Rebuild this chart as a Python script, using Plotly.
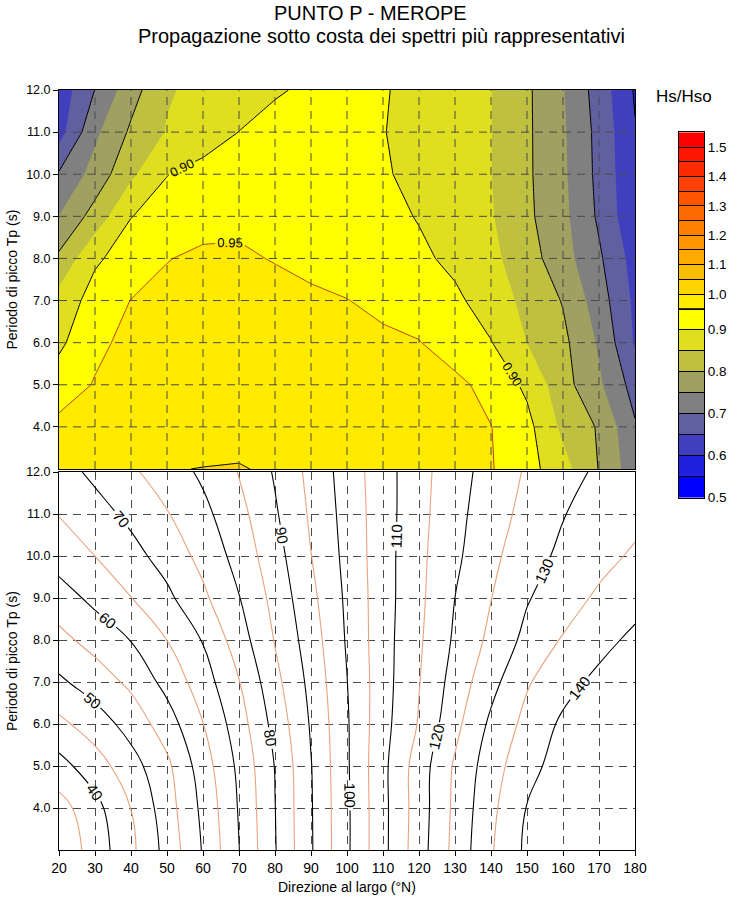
import plotly.graph_objects as go

W, H = 739, 899

# ---------------- data ----------------
direzioni = [20, 30, 40, 50, 60, 70, 80, 90, 100, 110, 120, 130, 140, 150, 160, 170, 180]
periodi = [3, 4, 5, 6, 7, 8, 9, 10, 11, 12]

# Hs/Hso (upper panel), one row per peak period Tp
hs_tp03 = [0.965, 0.978, 0.990, 0.999, 1.0005, 1.0013, 0.997, 0.993, 0.988, 0.982, 0.975, 0.966, 0.953, 0.919, 0.868, 0.798, 0.720]
hs_tp04 = [0.962, 0.972, 0.980, 0.986, 0.990, 0.992, 0.990, 0.987, 0.983, 0.978, 0.972, 0.963, 0.951, 0.915, 0.839, 0.795, 0.705]
hs_tp05 = [0.926, 0.953, 0.970, 0.978, 0.984, 0.988, 0.987, 0.983, 0.978, 0.972, 0.968, 0.962, 0.934, 0.890, 0.819, 0.758, 0.680]
hs_tp06 = [0.890, 0.940, 0.962, 0.972, 0.978, 0.980, 0.978, 0.972, 0.965, 0.958, 0.952, 0.925, 0.902, 0.8498, 0.812, 0.744, 0.645]
hs_tp07 = [0.870, 0.919, 0.951, 0.965, 0.972, 0.975, 0.970, 0.958, 0.951, 0.940, 0.925, 0.910, 0.876, 0.837, 0.797, 0.724, 0.640]
hs_tp08 = [0.810, 0.893, 0.921, 0.948, 0.960, 0.958, 0.947, 0.938, 0.930, 0.922, 0.910, 0.888, 0.862, 0.822, 0.770, 0.708, 0.630]
hs_tp09 = [0.751, 0.820, 0.899, 0.915, 0.930, 0.938, 0.940, 0.938, 0.930, 0.915, 0.897, 0.875, 0.854, 0.810, 0.763, 0.692, 0.610]
hs_tp10 = [0.705, 0.769, 0.840, 0.899, 0.915, 0.925, 0.930, 0.928, 0.920, 0.905, 0.887, 0.869, 0.851, 0.808, 0.759, 0.687, 0.607]
hs_tp11 = [0.630, 0.740, 0.808, 0.8535, 0.877, 0.9005, 0.910, 0.915, 0.912, 0.9015, 0.885, 0.868, 0.851, 0.808, 0.757, 0.685, 0.603]
hs_tp12 = [0.620, 0.701, 0.780, 0.845, 0.864, 0.879, 0.897, 0.905, 0.910, 0.903, 0.888, 0.869, 0.851, 0.808, 0.753, 0.678, 0.595]
hs = [hs_tp03, hs_tp04, hs_tp05, hs_tp06, hs_tp07, hs_tp08, hs_tp09, hs_tp10, hs_tp11, hs_tp12]

# nearshore direction (lower panel, degrees N)
dir_tp03 = [31.2, 37.2, 43.9, 51.7, 60.4, 69.9, 79.7, 89.5, 99.2, 108.65, 117.8, 126.5, 134.5, 141.0, 142.8, 143.8, 144.5]
dir_tp04 = [33.0, 38.4, 45.07, 52.7, 61.2, 70.4, 79.9, 89.6, 99.2, 108.65, 117.5, 126.1, 133.8, 140.2, 142.3, 143.5, 144.4]
dir_tp05 = [38.3, 42.7, 48.0, 53.9, 62.6, 71.1, 80.2, 89.8, 99.4, 108.75, 117.4, 125.65, 132.7, 138.5, 142.0, 143.3, 144.3]
dir_tp06 = [43.8, 47.5, 51.9, 57.6, 64.9, 72.7, 81.7, 90.5, 99.5, 108.3, 115.4, 123.6, 131.0, 136.5, 140.9, 142.8, 144.2]
dir_tp07 = [49.15, 52.4, 56.1, 61.6, 67.6, 74.8, 83.5, 91.4, 99.9, 108.0, 114.8, 122.05, 128.4, 134.5, 138.2, 141.3, 143.5]
dir_tp08 = [53.6, 56.8, 60.15, 65.05, 70.3, 77.6, 85.3, 92.5, 100.5, 108.0, 114.3, 120.75, 126.2, 131.4, 135.4, 138.3, 141.2]
dir_tp09 = [57.7, 61.3, 64.9, 68.9, 74.0, 79.8, 86.6, 93.7, 100.9, 107.9, 113.9, 120.02, 124.9, 129.6, 132.9, 135.8, 138.0]
dir_tp10 = [62.2, 65.02, 68.3, 72.0, 76.5, 81.8, 88.0, 94.9, 101.4, 107.9, 113.8, 119.0, 123.8, 127.9, 131.1, 133.4, 135.75]
dir_tp11 = [65.2, 68.1, 71.2, 74.7, 78.7, 83.4, 89.4, 95.7, 101.8, 107.8, 113.5, 118.5, 122.8, 126.5, 129.8, 131.7, 133.5]
dir_tp12 = [68.0, 71.1, 74.2, 77.45, 80.9, 85.2, 90.5, 96.4, 102.2, 107.9, 113.3, 118.0, 122.0, 125.55, 128.2, 130.8, 133.4]
dir_costa = [dir_tp03, dir_tp04, dir_tp05, dir_tp06, dir_tp07, dir_tp08, dir_tp09, dir_tp10, dir_tp11, dir_tp12]

# colour classes of Hs/Hso (lower edges 0.50 ... 1.50, top 1.55)
livelli_basso = [0.50, 0.55, 0.60, 0.65, 0.70, 0.75, 0.80, 0.85, 0.90, 0.95]
livelli_alto = [0.95, 1.00, 1.05, 1.10, 1.15, 1.20, 1.25, 1.30, 1.35, 1.40, 1.45, 1.50, 1.55]
colori_classi = [
    "rgb(0,0,255)", "rgb(32,32,223)", "rgb(64,64,191)", "rgb(96,96,160)",
    "rgb(128,128,128)", "rgb(160,160,96)", "rgb(191,191,64)", "rgb(223,223,32)",
    "rgb(255,255,0)", "rgb(255,234,0)", "rgb(255,213,0)", "rgb(255,191,0)",
    "rgb(255,170,0)", "rgb(255,149,0)", "rgb(255,128,0)", "rgb(255,106,0)",
    "rgb(255,85,0)", "rgb(255,64,0)", "rgb(255,43,0)", "rgb(255,21,0)", "rgb(255,0,0)",
]
cb_labels_basso = ["0.5", "", "0.6", "", "0.7", "", "0.8", "", "0.9", ""]
cb_labels_alto = ["", "1.0", "", "1.1", "", "1.2", "", "1.3", "", "1.4", "", "1.5", ""]

tp_tick = [4, 5, 6, 7, 8, 9, 10, 11, 12]
tp_tick_labels = ["4.0", "5.0", "6.0", "7.0", "8.0", "9.0", "10.0", "11.0", "12.0"]
dir_tick = direzioni

FONT = "Liberation Sans, Arial, sans-serif"


def scala_gradini(colori, confini):
    """discrete colorscale: colour i constant on [confini[i], confini[i+1]]"""
    sc = []
    for i, c in enumerate(colori):
        sc.append([confini[i], c])
        sc.append([confini[i + 1], c])
    return sc


# contour fill colorscale: plotly samples band j at j/nb (nb = number of levels)
n_liv = len(colori_classi) + 1
col_fill = [colori_classi[0]] + colori_classi + [colori_classi[-1]]
conf_fill = [0.0] + [(j + 0.5) / n_liv for j in range(n_liv)] + [1.0]
scala_fill = scala_gradini(col_fill, conf_fill)

n_cl = len(colori_classi)
scala_cb = scala_gradini(colori_classi, [i / n_cl for i in range(n_cl + 1)])

fig = go.Figure()

# ---------------- upper panel: Hs/Hso ----------------
fig.add_trace(go.Contour(
    x=direzioni, y=periodi, z=hs, xaxis="x", yaxis="y",
    autocontour=False,
    contours=dict(start=livelli_basso[0], end=livelli_alto[-1], size=0.05, coloring="fill", showlines=False),
    colorscale=scala_fill, showscale=False, line=dict(width=0, smoothing=0),
    hoverinfo="skip",
))


def linee_hs(start, end, size, colore, etichette):
    return go.Contour(
        x=direzioni, y=periodi, z=hs, xaxis="x", yaxis="y",
        autocontour=False,
        contours=dict(start=start, end=end, size=size, coloring="none",
                      showlabels=etichette, labelformat=".2f",
                      labelfont=dict(family=FONT, size=13, color="black")),
        line=dict(color=colore, width=1, smoothing=0),
        showscale=False, hoverinfo="skip",
    )


fig.add_trace(linee_hs(0.6, 0.8, 0.1, "black", False))
fig.add_trace(linee_hs(1.0, 1.0, 1.0, "black", False))
fig.add_trace(linee_hs(0.9, 0.9, 1.0, "black", True))
fig.add_trace(linee_hs(0.95, 0.95, 1.0, "#b8400f", True))

# ---------------- lower panel: nearshore direction ----------------
fig.add_trace(go.Contour(
    x=direzioni, y=periodi, z=dir_costa, xaxis="x2", yaxis="y2",
    autocontour=False,
    contours=dict(start=35, end=145, size=10, coloring="none", showlabels=False),
    line=dict(color="#e9a27c", width=1.1, smoothing=1.3),
    showscale=False, hoverinfo="skip",
))
fig.add_trace(go.Contour(
    x=direzioni, y=periodi, z=dir_costa, xaxis="x2", yaxis="y2",
    autocontour=False,
    contours=dict(start=40, end=140, size=10, coloring="none", showlabels=True,
                  labelfont=dict(family=FONT, size=15, color="black")),
    line=dict(color="black", width=1.1, smoothing=1.3),
    showscale=False, hoverinfo="skip",
))

# ---------------- colour legend (two stacks of class boxes) ----------------
fig.add_trace(go.Heatmap(
    x=[0, 1], y=livelli_basso, z=[[i] for i in range(len(livelli_basso) - 1)],
    xaxis="x3", yaxis="y3", colorscale=scala_cb, zmin=-0.5, zmax=n_cl - 0.5,
    showscale=False, hoverinfo="skip",
))
off = len(livelli_basso) - 1
fig.add_trace(go.Heatmap(
    x=[0, 1], y=livelli_alto, z=[[off + i] for i in range(len(livelli_alto) - 1)],
    xaxis="x4", yaxis="y4", colorscale=scala_cb, zmin=-0.5, zmax=n_cl - 0.5,
    showscale=False, hoverinfo="skip",
))

# ---------------- layout ----------------
x_dom = [59 / W, 635 / W]
y_top = [1 - 469 / H, 1 - 90 / H]
y_bot = [1 - 850 / H, 1 - 472 / H]
cb_x = [679 / W, 704 / W]
cb_low = [1 - 497.7 / H, 1 - 308.7 / H]
cb_high = [1 - 308.7 / H, 1 - 132.3 / H]

frame = dict(showline=True, mirror=True, linecolor="black", linewidth=1, zeroline=False, automargin=False)
GRID = "#4a4a4a"
DASH = "8px,6px"

fig.update_layout(
    width=W, height=H, margin=dict(l=0, r=0, t=0, b=0, autoexpand=False),
    paper_bgcolor="white", plot_bgcolor="white", showlegend=False,
    font=dict(family=FONT, color="black"),
    xaxis=dict(domain=x_dom, anchor="y", range=[20, 180], showticklabels=False, ticks="",
               showgrid=False, **frame),
    yaxis=dict(domain=y_top, anchor="x", range=[3, 12], tickvals=tp_tick, ticktext=tp_tick_labels,
               ticks="outside", ticklen=5, tickcolor="black", showgrid=False,
               tickfont=dict(size=12.5, color="black"), **frame),
    xaxis2=dict(domain=x_dom, anchor="y2", range=[20, 180], tickvals=dir_tick,
                ticks="outside", ticklen=5, tickcolor="black",
                showgrid=True, gridcolor=GRID, griddash=DASH, gridwidth=1,
                tickfont=dict(size=14, color="black"), **frame),
    yaxis2=dict(domain=y_bot, anchor="x2", range=[3, 12], tickvals=tp_tick, ticktext=tp_tick_labels,
                ticks="outside", ticklen=5, tickcolor="black",
                showgrid=True, gridcolor=GRID, griddash=DASH, gridwidth=1,
                tickfont=dict(size=12.5, color="black"), **frame),
    xaxis3=dict(domain=cb_x, anchor="y3", range=[0, 1], showticklabels=False, ticks="",
                showgrid=False, fixedrange=True, **frame),
    yaxis3=dict(domain=cb_low, anchor="x3", range=[livelli_basso[0], livelli_basso[-1]], side="right",
                tickvals=livelli_basso, ticktext=cb_labels_basso, ticks="inside", ticklen=25,
                tickcolor="black", tickwidth=1, showgrid=False, fixedrange=True,
                tickfont=dict(size=13.5, color="black"), **frame),
    xaxis4=dict(domain=cb_x, anchor="y4", range=[0, 1], showticklabels=False, ticks="",
                showgrid=False, fixedrange=True, **frame),
    yaxis4=dict(domain=cb_high, anchor="x4", range=[livelli_alto[0], livelli_alto[-1]], side="right",
                tickvals=livelli_alto, ticktext=cb_labels_alto, ticks="inside", ticklen=25,
                tickcolor="black", tickwidth=1, showgrid=False, fixedrange=True,
                tickfont=dict(size=13.5, color="black"), **frame),
)

# dashed grid drawn above the filled contours of the upper panel
shapes = []
for xv in dir_tick[1:-1]:
    shapes.append(dict(type="line", xref="x", yref="y domain", x0=xv, x1=xv, y0=0, y1=1,
                       line=dict(color=GRID, width=1, dash=DASH), layer="above"))
for yv in tp_tick[:-1]:
    shapes.append(dict(type="line", xref="x domain", yref="y", x0=0, x1=1, y0=yv, y1=yv,
                       line=dict(color=GRID, width=1, dash=DASH), layer="above"))
fig.update_layout(shapes=shapes)

ann = [
    dict(text="PUNTO P - MEROPE", x=370.5 / W, y=1 - 13 / H, size=20),
    dict(text="Propagazione sotto costa dei spettri più rappresentativi", x=381.5 / W, y=1 - 36 / H, size=20),
    dict(text="Direzione al largo (°N)", x=347 / W, y=1 - 887 / H, size=14),
    dict(text="Hs/Hso", x=684 / W, y=1 - 97 / H, size=17),
]
annotations = [dict(text=a["text"], x=a["x"], y=a["y"], xref="paper", yref="paper",
                    xanchor="center", yanchor="middle", showarrow=False,
                    font=dict(family=FONT, size=a["size"], color="black")) for a in ann]
for yc in (279.5, 661):
    annotations.append(dict(text="Periodo di picco Tp (s)", x=12 / W, y=1 - yc / H, xref="paper", yref="paper",
                            xanchor="center", yanchor="middle", textangle=-90, showarrow=False,
                            font=dict(family=FONT, size=14, color="black")))
fig.update_layout(annotations=annotations)

fig.write_html("out.html")
